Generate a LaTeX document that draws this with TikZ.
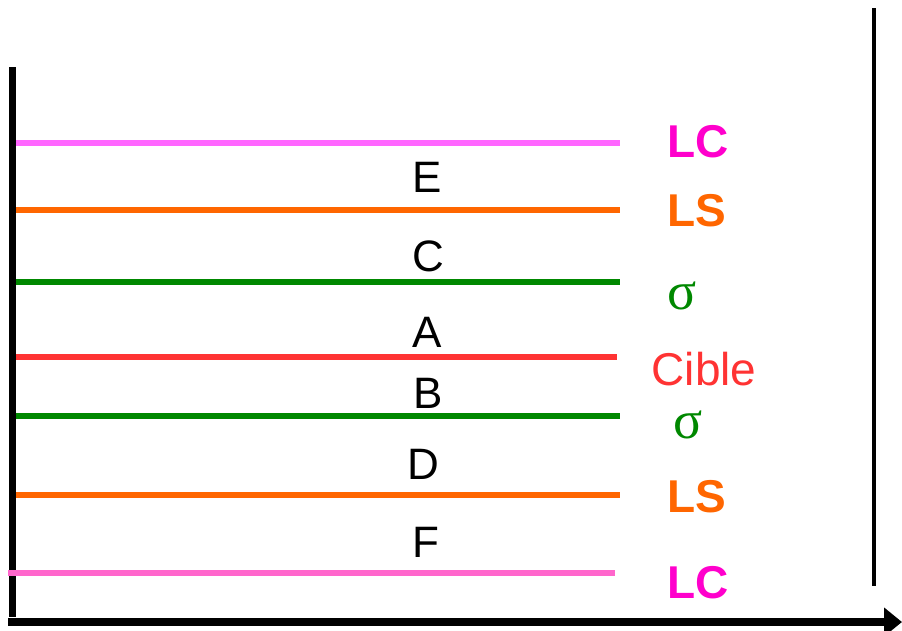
\documentclass[tikz,border=0pt]{standalone}
\usepackage{fontspec}
\setmainfont{Liberation Sans}
\newfontfamily\sigmafont{Liberation Serif}
\usetikzlibrary{arrows.meta}
\definecolor{lcline}{HTML}{FF66FF}
\definecolor{lclineb}{HTML}{FF66CC}
\definecolor{lctext}{HTML}{FF00CC}
\definecolor{lsorange}{HTML}{FF6600}
\definecolor{siggreen}{HTML}{008800}
\definecolor{cibred}{HTML}{FF3333}
\tikzset{
  layer/.style={line width=6.5pt},
  axisline/.style={line width=8pt, black},
  zonelabel/.style={inner sep=0pt, font=\fontsize{44}{44}\selectfont},
  ciblabel/.style={inner sep=0pt, font=\fontsize{46}{46}\selectfont},
  sidelabel/.style={inner sep=0pt, font=\fontsize{46}{46}\selectfont\bfseries},
  siglabel/.style={inner sep=0pt, text=siggreen, font=\fontsize{54}{54}\sigmafont},
}
\begin{document}
\begin{tikzpicture}[x=1pt,y=-1pt]
\useasboundingbox (0,0) rectangle (902,630);
% axes
\coordinate (ytop) at (12.5,67);
\coordinate (ybot) at (12.5,617);
\coordinate (xstart) at (8,622);
\coordinate (xend) at (902,622);
\coordinate (rtop) at (874,8);
\coordinate (rbot) at (874,586);
\draw[axisline,line width=7.5pt] (ytop) -- (ybot);
\draw[axisline,-{Triangle[length=18pt,width=28pt]}] (xstart) -- (xend);
\draw[line width=4pt] (rtop) -- (rbot);
% layers
\draw[layer,lcline] (16,143) -- (620,143);
\draw[layer,lsorange] (16,210) -- (620,210);
\draw[layer,siggreen] (16,282) -- (620,282);
\draw[layer,cibred] (16,357) -- (617,357);
\draw[layer,siggreen] (16,416) -- (620,416);
\draw[layer,lsorange] (16,495) -- (620,495);
\draw[layer,lclineb] (8,573) -- (615,573);
% zone letters
\node[zonelabel] (E) at (427,177) {E};
\node[zonelabel] (C) at (428,256) {C};
\node[zonelabel] (A) at (427,332) {A};
\node[zonelabel] (B) at (428,393) {B};
\node[zonelabel] (D) at (423,464) {D};
\node[zonelabel] (F) at (426,542) {F};
% side labels
\node[sidelabel,text=lctext] (lc1) at (698,142) {LC};
\node[sidelabel,text=lsorange] (ls1) at (697,211) {LS};
\node[siglabel] (s1) at (682,296) {σ};
\node[ciblabel,text=cibred] (cible) at (704,369) {Cible};
\node[siglabel] (s2) at (688,425) {σ};
\node[sidelabel,text=lsorange] (ls2) at (697,497) {LS};
\node[sidelabel,text=lctext] (lc2) at (698,583) {LC};
\end{tikzpicture}
\end{document}
